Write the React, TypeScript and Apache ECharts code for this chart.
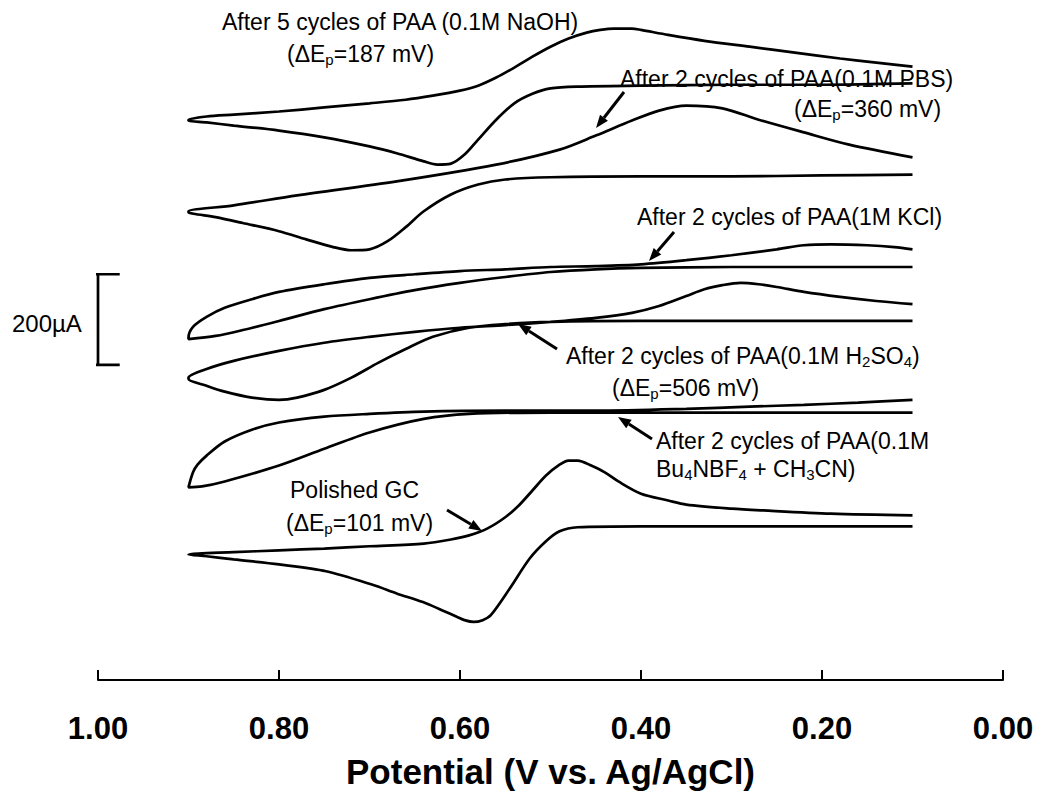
import React, { useEffect, useRef } from "react";
import * as echarts from "echarts";

// Cyclic voltammograms, stacked with vertical offsets (µA).
// "Up" = sweep 0.10 → 0.90 V, "Down" = sweep 0.90 → 0.10 V.
const naohUpV = [0.10, 0.20, 0.30, 0.40, 0.47, 0.50, 0.52, 0.54, 0.56, 0.58, 0.595, 0.61, 0.625, 0.64, 0.67, 0.70, 0.75, 0.80, 0.85, 0.88, 0.90];
const naohUpI = [1316, 1313, 1313, 1311, 1309, 1305, 1293, 1272, 1236, 1192, 1159, 1139, 1137, 1144, 1162, 1177, 1197, 1212, 1223, 1230, 1234];
const naohDownV = [0.90, 0.88, 0.85, 0.80, 0.75, 0.70, 0.66, 0.63, 0.60, 0.58, 0.56, 0.54, 0.52, 0.50, 0.48, 0.46, 0.445, 0.43, 0.41, 0.40, 0.37, 0.33, 0.28, 0.23, 0.18, 0.14, 0.10];
const naohDownI = [1236, 1243, 1247, 1254, 1263, 1272, 1280, 1289, 1300, 1311, 1329, 1351, 1375, 1397, 1415, 1428, 1434, 1437, 1437, 1434, 1423, 1410, 1397, 1384, 1371, 1362, 1353];

const pbsUpV = [0.10, 0.20, 0.30, 0.40, 0.50, 0.55, 0.58, 0.61, 0.64, 0.66, 0.68, 0.70, 0.72, 0.74, 0.77, 0.80, 0.84, 0.87, 0.90];
const pbsUpI = [1115, 1113, 1111, 1111, 1109, 1104, 1093, 1071, 1034, 999, 968, 950, 948, 955, 972, 990, 1008, 1021, 1032];
const pbsDownV = [0.90, 0.85, 0.78, 0.67, 0.56, 0.49, 0.45, 0.41, 0.38, 0.35, 0.31, 0.27, 0.22, 0.17, 0.10];
const pbsDownI = [1034, 1047, 1069, 1100, 1137, 1170, 1201, 1234, 1256, 1267, 1261, 1236, 1208, 1181, 1153];

const kclUpV = [0.10, 0.20, 0.30, 0.40, 0.45, 0.50, 0.55, 0.60, 0.65, 0.70, 0.75, 0.80, 0.84, 0.87, 0.90];
const kclUpI = [911, 911, 911, 909, 906, 900, 889, 876, 860, 840, 818, 792, 772, 759, 752];
const kclDownV = [0.90, 0.895, 0.88, 0.86, 0.83, 0.80, 0.75, 0.70, 0.65, 0.60, 0.55, 0.50, 0.45, 0.40, 0.35, 0.30, 0.25, 0.22, 0.19, 0.15, 0.12, 0.10];
const kclDownI = [755, 779, 801, 821, 840, 856, 873, 887, 895, 902, 906, 911, 913, 917, 926, 937, 950, 959, 961, 959, 955, 950];

const h2so4UpV = [0.10, 0.20, 0.30, 0.40, 0.50, 0.55, 0.59, 0.63, 0.66, 0.69, 0.72, 0.75, 0.78, 0.80, 0.83, 0.86, 0.88, 0.90];
const h2so4UpI = [792, 792, 792, 792, 790, 785, 777, 757, 730, 700, 667, 640, 623, 618, 623, 636, 649, 664];
const h2so4DownV = [0.90, 0.88, 0.85, 0.80, 0.75, 0.70, 0.65, 0.60, 0.55, 0.50, 0.45, 0.41, 0.38, 0.35, 0.33, 0.31, 0.29, 0.27, 0.25, 0.22, 0.18, 0.14, 0.10];
const h2so4DownI = [667, 686, 704, 726, 744, 757, 768, 777, 783, 790, 799, 810, 825, 847, 862, 871, 876, 873, 867, 856, 845, 836, 829];

const bu4UpV = [0.10, 0.20, 0.30, 0.40, 0.50, 0.59, 0.64, 0.70, 0.75, 0.80, 0.86, 0.885, 0.90];
const bu4UpI = [590, 590, 590, 590, 590, 587, 576, 546, 510, 473, 438, 427, 425];
const bu4DownV = [0.90, 0.895, 0.89, 0.88, 0.86, 0.83, 0.80, 0.75, 0.70, 0.64, 0.55, 0.45, 0.35, 0.28, 0.22, 0.16, 0.10];
const bu4DownI = [425, 458, 475, 495, 526, 552, 568, 581, 587, 592, 594, 594, 598, 603, 607, 612, 618];

const gcUpV = [0.10, 0.20, 0.30, 0.40, 0.47, 0.49, 0.505, 0.523, 0.545, 0.566, 0.575, 0.585, 0.595, 0.603, 0.62, 0.641, 0.67, 0.695, 0.748, 0.80, 0.85, 0.88, 0.90];
const gcUpI = [339, 339, 339, 339, 337, 328, 306, 268, 202, 143, 132, 128, 132, 139, 154, 172, 191, 209, 240, 255, 266, 273, 277];
const gcDownV = [0.90, 0.85, 0.80, 0.75, 0.70, 0.64, 0.61, 0.59, 0.57, 0.55, 0.535, 0.52, 0.505, 0.49, 0.48, 0.47, 0.455, 0.44, 0.425, 0.40, 0.37, 0.35, 0.30, 0.265, 0.19, 0.10];
const gcDownI = [277, 282, 286, 290, 295, 301, 310, 319, 334, 359, 385, 418, 451, 475, 484, 484, 473, 458, 438, 411, 396, 387, 378, 374, 367, 363];

// 200 µA scale bar drawn at E = 1.00 V
const scaleBarV = 1.0;
const scaleBarI = [695, 895];
const scaleBarCapV = [1.014, 0.976];

const xTicks = [0, 0.2, 0.4, 0.6, 0.8, 1.0];

const zip = (v: number[], i: number[]) => v.map((x, k) => [x, i[k]]);
const loop = (uv: number[], ui: number[], dv: number[], di: number[]) => [...zip(uv, ui), ...zip(dv, di)];

const traces = [
  loop(naohUpV, naohUpI, naohDownV, naohDownI),
  loop(pbsUpV, pbsUpI, pbsDownV, pbsDownI),
  loop(kclUpV, kclUpI, kclDownV, kclDownI),
  loop(h2so4UpV, h2so4UpI, h2so4DownV, h2so4DownI),
  loop(bu4UpV, bu4UpI, bu4DownV, bu4DownI),
  loop(gcUpV, gcUpI, gcDownV, gcDownI),
];

const FONT = '"Liberation Sans", Arial, Helvetica, sans-serif';
const TXT = 23;

const rich = {
  s: { fontSize: 15, fontFamily: FONT, lineHeight: 14, verticalAlign: "bottom", fill: "#000" },
};

function label(text: string, x: number, y: number) {
  return {
    type: "text",
    x,
    y,
    silent: true,
    style: {
      text,
      fill: "#000",
      fontSize: TXT,
      fontFamily: FONT,
      lineHeight: 25,
      verticalAlign: "middle",
      align: "left",
      rich,
    },
  };
}

function arrow(x1: number, y1: number, x2: number, y2: number) {
  const dx = x2 - x1;
  const dy = y2 - y1;
  const len = Math.hypot(dx, dy);
  const ux = dx / len;
  const uy = dy / len;
  const hl = 13;
  const hw = 5;
  const bx = x2 - ux * hl;
  const by = y2 - uy * hl;
  return [
    { type: "line", silent: true, shape: { x1, y1, x2: bx, y2: by }, style: { stroke: "#000", lineWidth: 3 } },
    {
      type: "polygon",
      silent: true,
      shape: { points: [[x2, y2], [bx - uy * hw, by + ux * hw], [bx + uy * hw, by - ux * hw]] },
      style: { fill: "#000" },
    },
  ];
}

export default function App() {
  const ref = useRef<HTMLDivElement>(null);

  useEffect(() => {
    if (!ref.current) return;
    const chart = echarts.init(ref.current, undefined, { renderer: "svg" });

    const curveSeries = traces.map((data) => ({
      type: "line",
      data,
      showSymbol: false,
      smooth: 0.3,
      silent: true,
      lineStyle: { color: "#000", width: 2.7 },
    }));

    const scaleBar = {
      type: "line",
      clip: false,
      showSymbol: false,
      silent: true,
      connectNulls: false,
      lineStyle: { color: "#000", width: 2.7 },
      data: [
        [scaleBarCapV[0], scaleBarI[1]],
        [scaleBarCapV[1], scaleBarI[1]],
        [scaleBarV, "-"],
        [scaleBarV, scaleBarI[1]],
        [scaleBarV, scaleBarI[0]],
        [scaleBarV, "-"],
        [scaleBarCapV[0], scaleBarI[0]],
        [scaleBarCapV[1], scaleBarI[0]],
      ],
    };

    const option = {
      animation: false,
      grid: { left: 98, right: 37, top: 0, bottom: 112 },
      xAxis: {
        type: "value",
        min: xTicks[0],
        max: xTicks[xTicks.length - 1],
        interval: 0.2,
        inverse: true,
        axisLine: { onZero: false, lineStyle: { color: "#000", width: 2 } },
        axisTick: { inside: true, length: 10, lineStyle: { color: "#000", width: 2 } },
        splitLine: { show: false },
        axisLabel: {
          formatter: (v: number) => v.toFixed(2),
          color: "#000",
          fontSize: 31,
          fontWeight: "bold",
          fontFamily: FONT,
          margin: 33,
        },
        name: "Potential (V vs. Ag/AgCl)",
        nameLocation: "middle",
        nameGap: 74,
        nameTextStyle: { color: "#000", fontSize: 35, fontWeight: "bold", fontFamily: FONT },
      },
      yAxis: { type: "value", min: 0, max: 1500, show: false },
      series: [...curveSeries, scaleBar],
      graphic: [
        {
          type: "text",
          x: 12,
          y: 323,
          silent: true,
          style: { text: "200µA", fill: "#000", fontSize: 24, fontFamily: FONT, verticalAlign: "middle" },
        },
        label("After 5 cycles of PAA (0.1M NaOH)", 222, 22),
        label("(ΔE{s|p}=187 mV)", 287, 54),
        label("After 2 cycles of PAA(0.1M PBS)", 620, 79),
        label("(ΔE{s|p}=360 mV)", 794, 109),
        ...arrow(624, 92, 596, 128),
        label("After 2 cycles of PAA(1M KCl)", 637, 217),
        ...arrow(674, 232, 649, 261),
        label("After 2 cycles of PAA(0.1M H{s|2}SO{s|4})", 566, 356),
        label("(ΔE{s|p}=506 mV)", 612, 388),
        ...arrow(557, 349, 518, 324),
        label("After 2 cycles of PAA(0.1M", 656, 441),
        label("Bu{s|4}NBF{s|4} + CH{s|3}CN)", 656, 469),
        ...arrow(652, 439, 618, 417),
        label("Polished GC", 290, 490),
        label("(ΔE{s|p}=101 mV)", 286, 523),
        ...arrow(447, 510, 482, 531),
      ],
    };

    chart.setOption(option as any);
    return () => chart.dispose();
  }, []);

  return (
    <div
      ref={ref}
      style={{ position: "fixed", left: 0, top: 0, width: 1040, height: 794, background: "#fff" }}
    />
  );
}
